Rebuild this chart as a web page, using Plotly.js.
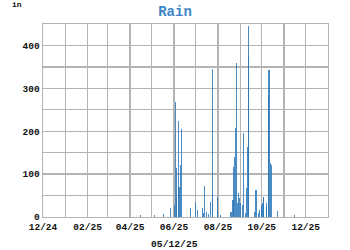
<!DOCTYPE html>
<html>
<head>
<meta charset="utf-8">
<script src="https://cdn.plot.ly/plotly-3.0.1.min.js"></script>
<style>html,body{margin:0;padding:0;background:#fff}#chart{width:350px;height:250px}</style>
</head>
<body>
<div id="chart"></div>
<script>
const dates = [
  "2025-04-16","2025-05-05","2025-05-18","2025-05-27",
  "2025-06-02","2025-06-03","2025-06-04","2025-06-05","2025-06-07","2025-06-08","2025-06-10","2025-06-11",
  "2025-06-24","2025-07-01","2025-07-04","2025-07-10","2025-07-12","2025-07-14","2025-07-16","2025-07-19",
  "2025-07-22","2025-07-24","2025-07-25","2025-07-31","2025-08-01","2025-08-05",
  "2025-08-18","2025-08-20","2025-08-22","2025-08-23","2025-08-24","2025-08-25","2025-08-27","2025-08-28",
  "2025-08-29","2025-08-31","2025-09-02","2025-09-04","2025-09-05","2025-09-08","2025-09-10","2025-09-11",
  "2025-09-12","2025-09-13","2025-09-21","2025-09-23","2025-09-26","2025-09-28","2025-09-30","2025-10-01",
  "2025-10-02","2025-10-03","2025-10-04","2025-10-07","2025-10-08","2025-10-10","2025-10-11","2025-10-13",
  "2025-10-14","2025-10-23","2025-11-15"
];
const rain = [
  4, 4, 7, 22,
  28, 268, 114, 47, 224, 70, 121, 205,
  21, 36, 16, 22, 10, 72, 12, 7,
  36, 345, 47, 47, 9, 5,
  12, 12, 40, 117, 141, 207, 358, 33,
  55, 44, 33, 28, 195, 10, 67, 164,
  377, 445, 12, 63, 9, 16, 20, 28,
  33, 46, 47, 24, 33, 284, 343, 125,
  121, 15, 5
];
const yTickVals = [0, 50, 100, 150, 200, 250, 300, 350, 400, 450];
const yTickText = ["0", "", "100", "", "200", "", "300", "", "400", ""];
const xTickVals = ["2024-12-01","2025-01-01","2025-02-01","2025-03-01","2025-04-01","2025-05-01","2025-06-01",
                   "2025-07-01","2025-08-01","2025-09-01","2025-10-01","2025-11-01","2025-12-01","2026-01-01"];
const xTickText = ["12/24","","02/25","","04/25","","06/25","","08/25","","10/25","","12/25",""];

const mono = "Liberation Mono, Courier New, monospace";
const DAY = 86400000;
const grid = "#b4b4b4";

Plotly.newPlot("chart", [{
  type: "bar",
  x: dates,
  y: rain,
  width: dates.map(() => DAY * 1.5),
  marker: {color: "#2a78b8", opacity: 0.85, line: {width: 0}},
  hoverinfo: "x+y"
}], {
  width: 350, height: 250,
  margin: {l: 43, r: 22, t: 24, b: 33, pad: 0},
  paper_bgcolor: "#fff", plot_bgcolor: "#fff",
  showlegend: false,
  bargap: 0,
  title: {text: "Rain", x: 0.5, xref: "container", y: 0.975, yref: "container", yanchor: "top",
          font: {family: mono, size: 14, color: "#3d85c6", weight: "bold"}},
  xaxis: {
    type: "date",
    range: ["2024-12-01", "2026-01-01"],
    tickvals: xTickVals, ticktext: xTickText,
    showgrid: true, gridcolor: grid, gridwidth: 1.4,
    showline: true, linecolor: grid, linewidth: 1.4, mirror: true,
    ticks: "", zeroline: false,
    tickfont: {family: mono, size: 9.5, color: "#111", weight: "bold"}
  },
  yaxis: {
    range: [0, 450],
    tickvals: yTickVals, ticktext: yTickText,
    showgrid: true, gridcolor: grid, gridwidth: 1.4,
    showline: true, linecolor: grid, linewidth: 1.4, mirror: true,
    ticks: "", zeroline: false,
    tickfont: {family: mono, size: 9.5, color: "#111", weight: "bold"}
  },
  annotations: [
    {text: "in", xref: "paper", yref: "paper", x: -0.09, y: 1.1, xanchor: "center", yanchor: "middle",
     showarrow: false, font: {family: mono, size: 8, color: "#111", weight: "bold"}},
    {text: "05/12/25", xref: "paper", yref: "paper", x: 0.463, y: -0.14, xanchor: "center", yanchor: "middle",
     showarrow: false, font: {family: mono, size: 9.7, color: "#111", weight: "bold"}}
  ]
}, {displayModeBar: false, staticPlot: true});
</script>
</body>
</html>
